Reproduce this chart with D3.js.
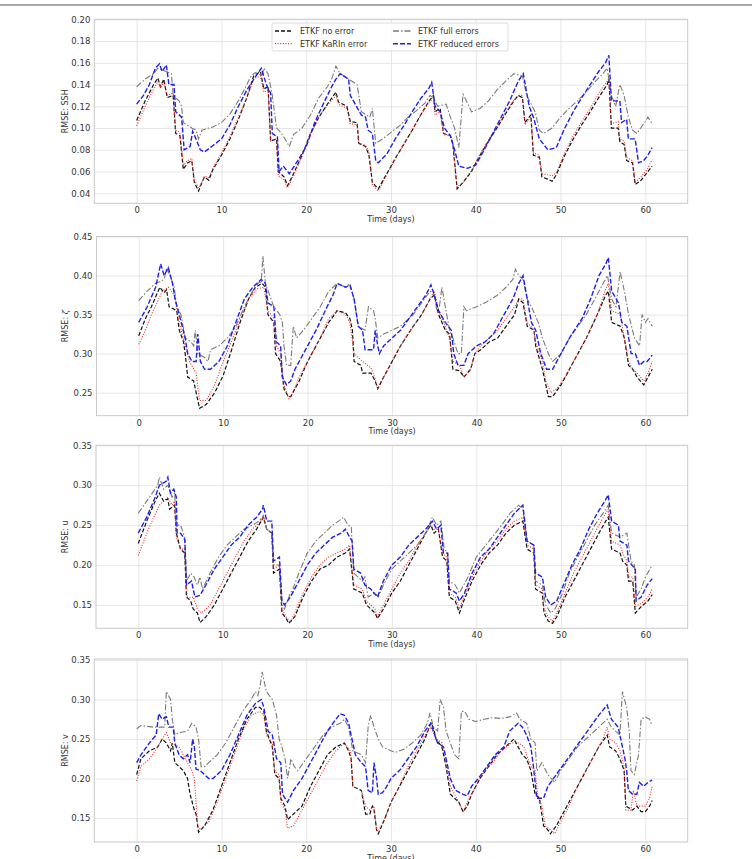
<!DOCTYPE html>
<html>
<head>
<meta charset="utf-8">
<script src="https://cdnjs.cloudflare.com/ajax/libs/d3/7.8.5/d3.min.js"></script>
<style>
  body { margin: 0; background: #fff; }
  svg { display: block; font-family: "DejaVu Sans", sans-serif; }
</style>
</head>
<body>
<div id="chart"></div>
<script>
/*
*    rmse panels: SSH, zeta, u, v
*/

// x ticks shared by every panel
var timeTicks = [0, 10, 20, 30, 40, 50, 60];

// series names (legend order)
var seriesNames = ["ETKF no error", "ETKF KaRIn error", "ETKF full errors", "ETKF reduced errors"];

// ---- SSH ----
var sshNoError = [[0,0.107],[1,0.125],[2,0.14],[2.5,0.146],[2.8,0.138],[3.2,0.145],[3.6,0.128],[4.3,0.13],[4.6,0.095],[5.1,0.093],[5.5,0.062],[6,0.068],[6.5,0.07],[6.8,0.05],[7.3,0.042],[7.7,0.05],[8,0.055],[8.5,0.052],[9,0.062],[10,0.075],[11,0.09],[12,0.108],[13,0.128],[13.8,0.148],[14.6,0.152],[15,0.136],[15.5,0.138],[15.8,0.088],[16.5,0.09],[16.7,0.06],[17.4,0.055],[17.8,0.047],[18.5,0.058],[19.5,0.075],[20.5,0.095],[21.5,0.11],[22.5,0.122],[23.5,0.133],[23.8,0.124],[24.8,0.12],[25.2,0.106],[26,0.105],[26.2,0.086],[27,0.083],[27.4,0.075],[27.8,0.05],[28.5,0.044],[29.5,0.058],[30.5,0.072],[31.5,0.085],[32.5,0.098],[33.5,0.112],[34.5,0.125],[35,0.13],[35.2,0.115],[35.8,0.118],[36.2,0.095],[37,0.093],[37.3,0.085],[37.8,0.044],[38.5,0.05],[39.5,0.06],[40.5,0.075],[41.5,0.088],[42.5,0.1],[43.5,0.113],[44.5,0.125],[45,0.13],[45.5,0.128],[45.8,0.105],[46.5,0.112],[46.8,0.075],[47.5,0.073],[47.8,0.055],[48.5,0.053],[49,0.051],[49.5,0.057],[50.5,0.075],[51.5,0.09],[52.5,0.103],[53.5,0.115],[54.5,0.128],[55.5,0.14],[55.7,0.145],[56,0.1],[56.8,0.1],[57,0.087],[57.5,0.085],[57.8,0.07],[58.5,0.068],[58.8,0.048],[59.5,0.052],[60.3,0.06],[60.8,0.065]];
var sshKarin = [[0,0.102],[1,0.12],[2,0.136],[2.5,0.143],[2.8,0.137],[3.2,0.142],[3.6,0.13],[4.3,0.132],[4.6,0.098],[5.1,0.096],[5.5,0.066],[6,0.07],[6.5,0.072],[6.8,0.052],[7.3,0.045],[7.7,0.05],[8,0.056],[8.5,0.054],[9,0.063],[10,0.077],[11,0.092],[12,0.11],[13,0.128],[13.8,0.145],[14.6,0.148],[15,0.133],[15.5,0.135],[15.8,0.088],[16.5,0.09],[16.7,0.056],[17.4,0.052],[17.8,0.045],[18.5,0.056],[19.5,0.074],[20.5,0.094],[21.5,0.11],[22.5,0.121],[23.5,0.13],[23.8,0.122],[24.8,0.118],[25.2,0.104],[26,0.103],[26.2,0.086],[27,0.084],[27.4,0.078],[27.8,0.048],[28.5,0.042],[29.5,0.057],[30.5,0.071],[31.5,0.085],[32.5,0.098],[33.5,0.112],[34.5,0.124],[35,0.127],[35.2,0.112],[35.8,0.115],[36.2,0.094],[37,0.093],[37.3,0.086],[37.8,0.046],[38.5,0.05],[39.5,0.061],[40.5,0.076],[41.5,0.089],[42.5,0.101],[43.5,0.114],[44.5,0.126],[45,0.13],[45.5,0.13],[45.8,0.103],[46.5,0.11],[46.8,0.077],[47.5,0.075],[47.8,0.058],[48.5,0.057],[49,0.056],[49.5,0.059],[50.5,0.077],[51.5,0.093],[52.5,0.106],[53.5,0.118],[54.5,0.132],[55.5,0.143],[55.7,0.146],[56,0.104],[56.8,0.106],[57,0.09],[57.5,0.088],[57.8,0.073],[58.5,0.07],[58.8,0.05],[59.5,0.055],[60.3,0.063],[60.8,0.071]];
var sshFull = [[0,0.138],[1,0.145],[2,0.15],[2.5,0.155],[3.5,0.152],[4.1,0.15],[4.3,0.13],[5,0.125],[5.3,0.12],[5.5,0.105],[6.5,0.1],[7,0.098],[7.3,0.09],[7.7,0.098],[8.5,0.1],[9,0.101],[10,0.105],[11,0.113],[12,0.125],[13,0.14],[13.5,0.148],[14,0.151],[14.8,0.148],[15,0.155],[15.5,0.15],[16,0.13],[16.2,0.118],[16.5,0.1],[17,0.096],[17.5,0.09],[18,0.083],[18.5,0.094],[19.5,0.1],[20.5,0.112],[21.5,0.128],[22.5,0.138],[23,0.145],[23.5,0.157],[24,0.15],[25,0.145],[26,0.14],[26.5,0.115],[27.5,0.11],[27.8,0.118],[28.2,0.086],[29,0.09],[30,0.096],[31,0.102],[32,0.11],[33,0.116],[34,0.123],[34.6,0.13],[35,0.128],[35.5,0.12],[36.5,0.122],[37,0.11],[37.5,0.1],[38,0.082],[38.5,0.131],[39.2,0.12],[39.5,0.115],[40.5,0.118],[41.5,0.125],[42.5,0.135],[43.5,0.143],[44.5,0.15],[45.5,0.148],[46,0.13],[47,0.115],[47.5,0.098],[48,0.095],[49,0.1],[50,0.11],[51,0.118],[52,0.125],[53,0.133],[54,0.142],[55,0.15],[55.5,0.155],[56,0.13],[56.5,0.12],[57,0.14],[57.5,0.13],[58,0.11],[58.5,0.098],[59,0.095],[60,0.106],[60.3,0.11],[60.8,0.104]];
var sshReduced = [[0,0.122],[0.8,0.13],[1.5,0.14],[2.2,0.155],[2.7,0.159],[3,0.152],[3.5,0.158],[3.8,0.14],[4.4,0.14],[4.6,0.115],[5.3,0.11],[5.6,0.08],[6.3,0.083],[6.6,0.097],[7,0.09],[7.5,0.08],[8,0.078],[9,0.084],[10,0.09],[11,0.103],[12,0.12],[13,0.135],[14,0.147],[14.7,0.155],[15.3,0.14],[15.8,0.132],[16,0.095],[16.6,0.092],[16.8,0.06],[17.3,0.065],[18,0.058],[19,0.07],[20,0.083],[21,0.105],[22,0.122],[23,0.138],[23.5,0.145],[24,0.15],[25,0.145],[25.2,0.13],[26.5,0.112],[27,0.11],[27.3,0.098],[27.8,0.095],[28.2,0.07],[28.5,0.068],[29.5,0.076],[30.5,0.09],[31.5,0.102],[32.5,0.115],[33.5,0.127],[34.5,0.137],[34.8,0.142],[35.2,0.12],[35.8,0.115],[36.3,0.1],[37,0.093],[37.5,0.08],[38,0.065],[39,0.063],[40,0.066],[41,0.08],[42,0.095],[43,0.11],[44,0.125],[45,0.143],[45.6,0.15],[46.3,0.12],[46.8,0.11],[47.5,0.09],[48.5,0.08],[49.5,0.082],[50.5,0.1],[51.5,0.115],[52.5,0.128],[53.5,0.14],[54.5,0.152],[55.3,0.16],[55.7,0.167],[56,0.125],[57,0.125],[57.2,0.105],[57.8,0.108],[58,0.09],[58.8,0.09],[59.2,0.068],[59.8,0.07],[60.3,0.075],[60.8,0.082]];
var sshTicks = [0.04, 0.06, 0.08, 0.10, 0.12, 0.14, 0.16, 0.18, 0.20];

// ---- zeta ----
var zetaNoError = [[0,0.323],[0.8,0.345],[1.5,0.36],[2.5,0.385],[3,0.378],[3.3,0.382],[3.6,0.36],[4.5,0.355],[4.8,0.33],[5.3,0.315],[5.5,0.3],[5.8,0.27],[6.5,0.265],[6.8,0.25],[7.2,0.23],[8,0.235],[9,0.25],[10,0.272],[11,0.305],[12,0.34],[13,0.37],[13.8,0.385],[14.6,0.39],[15,0.385],[15.3,0.35],[16,0.34],[16.2,0.3],[16.8,0.29],[17.2,0.255],[17.7,0.245],[18,0.245],[19,0.265],[20,0.29],[21.5,0.32],[22.5,0.34],[23.5,0.355],[24.5,0.352],[25,0.345],[25.3,0.33],[25.5,0.29],[26.3,0.285],[26.5,0.275],[27.5,0.275],[28,0.265],[28.3,0.255],[29,0.27],[30,0.29],[31,0.31],[32.5,0.335],[33.5,0.35],[34.5,0.37],[35,0.375],[35.5,0.35],[36.3,0.33],[36.8,0.325],[37.2,0.28],[38,0.278],[38.5,0.27],[39.3,0.28],[39.8,0.3],[40.5,0.305],[41.5,0.315],[42.5,0.32],[43.5,0.335],[44.5,0.35],[45,0.37],[45.5,0.365],[46,0.335],[46.8,0.33],[47,0.31],[47.8,0.28],[48.2,0.26],[48.5,0.245],[49,0.245],[50,0.26],[51,0.28],[52,0.3],[53,0.32],[54.3,0.35],[55.3,0.375],[55.6,0.38],[56,0.34],[57,0.335],[57.5,0.32],[58,0.285],[58.5,0.28],[59,0.27],[59.8,0.26],[60.3,0.27],[60.8,0.28]];
var zetaKarin = [[0,0.312],[0.8,0.33],[1.5,0.35],[2.8,0.38],[3.5,0.385],[4.2,0.375],[4.8,0.34],[5.5,0.31],[6,0.29],[6.8,0.275],[7.2,0.24],[8,0.24],[9,0.26],[10,0.29],[11.5,0.33],[13,0.37],[14,0.383],[14.8,0.385],[15.3,0.355],[16,0.345],[16.3,0.31],[16.8,0.3],[17.2,0.26],[17.8,0.242],[18.3,0.25],[19,0.27],[20,0.29],[21.5,0.32],[22.5,0.345],[23.5,0.355],[24.5,0.35],[25,0.34],[25.5,0.3],[26.5,0.29],[27.5,0.282],[28,0.268],[28.3,0.255],[29,0.27],[30,0.29],[31,0.31],[32.5,0.335],[33.5,0.35],[34.5,0.37],[35,0.38],[35.5,0.355],[36.3,0.335],[36.8,0.32],[37.2,0.29],[38,0.285],[38.5,0.27],[39.3,0.28],[39.8,0.3],[40.5,0.31],[41.5,0.32],[42.5,0.33],[43.5,0.345],[44.5,0.36],[45,0.37],[45.5,0.37],[46,0.34],[46.8,0.33],[47,0.315],[47.8,0.29],[48.2,0.265],[48.8,0.25],[49.5,0.255],[50.5,0.27],[51.5,0.29],[53,0.32],[54.3,0.35],[55.2,0.38],[55.6,0.39],[56,0.355],[57,0.35],[57.5,0.32],[58,0.29],[58.5,0.28],[59,0.275],[59.8,0.265],[60.3,0.275],[60.8,0.29]];
var zetaFull = [[0,0.368],[1,0.38],[2,0.39],[2.5,0.392],[3,0.395],[3.3,0.41],[3.7,0.4],[4.2,0.385],[4.5,0.36],[5,0.35],[5.5,0.32],[6.2,0.315],[6.5,0.31],[6.7,0.33],[7,0.3],[7.8,0.295],[8.2,0.29],[8.5,0.305],[9.5,0.31],[10.5,0.32],[11.5,0.335],[12.5,0.36],[13.5,0.38],[14.3,0.392],[14.5,0.39],[14.7,0.425],[15,0.39],[15.5,0.375],[16,0.36],[16.7,0.35],[17,0.34],[17.2,0.31],[17.5,0.285],[18,0.285],[18.3,0.335],[18.7,0.32],[19.5,0.33],[20.5,0.345],[21.5,0.36],[22.5,0.38],[23.5,0.39],[24.5,0.385],[25,0.39],[25.5,0.37],[26,0.335],[26.8,0.33],[27.2,0.36],[27.8,0.355],[28,0.345],[28.3,0.32],[29,0.325],[30,0.33],[31,0.335],[32.5,0.35],[33.5,0.365],[34.5,0.38],[35,0.375],[35.3,0.355],[35.6,0.36],[35.9,0.385],[36.3,0.36],[36.8,0.33],[37.2,0.32],[37.8,0.3],[38.2,0.3],[38.5,0.36],[38.8,0.355],[40,0.36],[41,0.365],[42.5,0.375],[43.5,0.385],[44.3,0.395],[44.6,0.408],[45,0.4],[45.5,0.395],[46,0.37],[46.5,0.36],[47.3,0.34],[47.8,0.32],[48.5,0.3],[49,0.29],[50,0.3],[51,0.32],[52,0.335],[53,0.35],[54,0.37],[55,0.39],[55.5,0.4],[56,0.37],[56.5,0.36],[57,0.405],[57.5,0.38],[58,0.35],[58.7,0.32],[59.3,0.31],[59.6,0.35],[60,0.34],[60.3,0.345],[60.8,0.335]];
var zetaReduced = [[0,0.34],[1,0.36],[2,0.385],[2.6,0.415],[3,0.4],[3.5,0.41],[4,0.39],[4.3,0.37],[4.8,0.35],[5.5,0.32],[5.8,0.3],[6.3,0.29],[6.8,0.29],[7,0.325],[7.3,0.29],[7.8,0.28],[8.5,0.28],[9.5,0.29],[10.5,0.31],[11.5,0.34],[12.5,0.37],[13.5,0.385],[14.5,0.395],[15,0.39],[15.3,0.365],[16,0.36],[16.3,0.315],[16.8,0.31],[17,0.27],[17.5,0.26],[18,0.265],[18.5,0.28],[19.5,0.3],[21,0.33],[22.3,0.36],[23,0.375],[23.5,0.39],[24.5,0.385],[25,0.388],[25.5,0.37],[26,0.335],[26.5,0.33],[26.8,0.305],[27.8,0.305],[28,0.33],[28.3,0.31],[28.5,0.3],[29,0.31],[30,0.32],[31,0.33],[32,0.345],[33,0.36],[34,0.375],[34.6,0.388],[35,0.375],[35.5,0.355],[36.3,0.34],[37,0.33],[37.3,0.3],[37.8,0.285],[38.5,0.285],[39,0.3],[40,0.31],[41,0.315],[42,0.325],[43,0.345],[44.3,0.37],[45,0.39],[45.5,0.4],[46,0.37],[46.5,0.34],[47,0.33],[47.6,0.3],[48.3,0.28],[49,0.28],[50,0.3],[51,0.32],[52.5,0.345],[53.5,0.37],[54.5,0.4],[55.3,0.415],[55.6,0.423],[56,0.38],[56.8,0.365],[57.2,0.34],[57.8,0.335],[58.3,0.3],[58.8,0.3],[59.3,0.285],[59.8,0.29],[60.2,0.29],[60.8,0.298]];
var zetaTicks = [0.25, 0.30, 0.35, 0.40, 0.45];

// ---- u ----
var uNoError = [[0,0.227],[1,0.255],[2,0.28],[2.5,0.29],[3,0.28],[3.5,0.283],[3.7,0.27],[4.3,0.275],[4.5,0.24],[5,0.22],[5.5,0.215],[5.7,0.16],[6.2,0.155],[6.5,0.145],[7,0.14],[7.3,0.128],[8,0.135],[9,0.15],[10,0.17],[11,0.19],[12,0.21],[13,0.23],[14,0.245],[14.8,0.26],[15.2,0.245],[15.8,0.24],[16,0.19],[16.7,0.195],[17,0.14],[17.5,0.133],[17.8,0.127],[18.5,0.135],[19.5,0.16],[20.5,0.18],[21.5,0.195],[22.5,0.2],[23.5,0.21],[24.5,0.215],[25,0.22],[25.5,0.17],[26.5,0.165],[27,0.15],[28,0.14],[28.3,0.133],[29,0.145],[30,0.165],[31,0.18],[32,0.2],[33,0.22],[34,0.24],[34.6,0.25],[35,0.24],[35.5,0.245],[36,0.21],[36.5,0.205],[36.8,0.16],[37.5,0.155],[38,0.14],[38.5,0.155],[39.5,0.18],[40.5,0.2],[41.5,0.215],[42.5,0.225],[43.5,0.24],[44.5,0.25],[45.5,0.255],[46,0.22],[46.8,0.215],[47,0.17],[47.8,0.165],[48,0.14],[48.5,0.13],[49,0.127],[49.5,0.135],[50.5,0.16],[51.5,0.18],[52.5,0.2],[53.5,0.22],[54.5,0.24],[55.3,0.255],[55.6,0.26],[56,0.22],[57,0.215],[57.3,0.205],[57.8,0.2],[58,0.18],[58.5,0.18],[58.8,0.14],[59.5,0.148],[60.3,0.155],[60.8,0.163]];
var uKarin = [[0,0.212],[1.2,0.245],[2.5,0.275],[3,0.28],[3.5,0.285],[4,0.275],[4.3,0.28],[4.5,0.235],[5,0.22],[5.5,0.22],[5.8,0.158],[6.5,0.16],[7,0.145],[7.5,0.14],[8.5,0.15],[9.5,0.17],[10.5,0.19],[11.5,0.21],[12.5,0.23],[13.5,0.245],[14.5,0.255],[14.8,0.26],[15.2,0.245],[15.8,0.24],[16,0.195],[16.7,0.2],[17,0.145],[17.5,0.135],[18,0.128],[18.5,0.14],[19.5,0.165],[20.5,0.185],[21.5,0.2],[22.5,0.21],[23.5,0.215],[24.5,0.22],[25,0.225],[25.5,0.175],[26.5,0.17],[27,0.155],[28,0.145],[28.3,0.135],[29,0.15],[30,0.17],[31,0.19],[32,0.205],[33,0.225],[34,0.24],[34.6,0.25],[35,0.245],[35.5,0.245],[36,0.215],[36.5,0.21],[36.8,0.165],[37.5,0.16],[38,0.145],[38.5,0.16],[39.5,0.185],[40.5,0.205],[41.5,0.22],[42.5,0.23],[43.5,0.245],[44.5,0.255],[45.5,0.26],[46,0.225],[46.8,0.22],[47,0.175],[47.8,0.17],[48,0.145],[48.5,0.135],[49,0.13],[49.5,0.14],[50.5,0.165],[51.5,0.19],[52.5,0.21],[53.5,0.23],[54.5,0.25],[55.3,0.265],[55.6,0.27],[56,0.23],[57,0.225],[57.3,0.215],[57.8,0.205],[58,0.185],[58.5,0.185],[58.8,0.148],[59.5,0.152],[60.3,0.16],[60.8,0.17]];
var uFull = [[0,0.265],[1,0.28],[2.3,0.3],[2.5,0.31],[3,0.295],[3.5,0.3],[4,0.285],[4.3,0.29],[4.5,0.25],[5,0.25],[5.5,0.235],[5.7,0.18],[6.2,0.19],[6.6,0.185],[7,0.175],[7.3,0.185],[7.6,0.17],[8.5,0.19],[9.5,0.21],[10.5,0.225],[11.5,0.235],[12.5,0.245],[13.5,0.25],[14.3,0.255],[14.8,0.262],[15.2,0.245],[15.8,0.24],[16,0.2],[16.7,0.2],[17,0.15],[17.3,0.145],[18,0.165],[18.3,0.17],[19,0.19],[20,0.215],[21,0.23],[22,0.24],[23,0.25],[23.7,0.255],[24.3,0.26],[24.8,0.25],[25.2,0.248],[25.5,0.19],[26.5,0.18],[26.8,0.185],[27.2,0.16],[28,0.165],[28.4,0.16],[29,0.175],[30,0.195],[31.5,0.21],[33,0.225],[34,0.24],[34.8,0.26],[35.3,0.25],[35.8,0.255],[36.2,0.22],[36.6,0.215],[36.8,0.18],[37.5,0.175],[38,0.165],[39,0.185],[40,0.21],[41.5,0.23],[43,0.25],[44,0.265],[45,0.275],[45.5,0.27],[46,0.23],[46.8,0.225],[47,0.18],[47.8,0.175],[48.2,0.15],[48.8,0.14],[49.3,0.145],[50.2,0.165],[51,0.19],[52,0.21],[53,0.23],[54,0.25],[55,0.265],[55.6,0.275],[56,0.24],[57,0.235],[57.8,0.24],[58.3,0.205],[58.7,0.2],[58.9,0.16],[59.5,0.17],[60,0.185],[60.8,0.2]];
var uReduced = [[0,0.24],[1,0.26],[2,0.285],[2.5,0.3],[3.3,0.305],[3.5,0.31],[3.8,0.29],[4.2,0.295],[4.5,0.285],[4.6,0.24],[5,0.24],[5.5,0.232],[5.7,0.175],[6.3,0.18],[6.7,0.16],[7.3,0.162],[8,0.175],[9,0.195],[10,0.21],[11,0.225],[12,0.235],[13,0.25],[14,0.26],[14.7,0.27],[14.8,0.275],[15.2,0.255],[15.8,0.255],[16,0.205],[16.7,0.21],[17,0.155],[17.3,0.15],[18,0.16],[19,0.18],[20,0.2],[21,0.215],[22,0.225],[23,0.235],[24,0.24],[24.5,0.245],[25,0.235],[25.3,0.23],[25.5,0.195],[26.3,0.19],[26.8,0.175],[27.5,0.17],[28.3,0.16],[29,0.18],[30,0.2],[31,0.21],[32,0.225],[33,0.235],[34,0.245],[34.8,0.255],[35.3,0.245],[35.8,0.25],[36.1,0.215],[36.6,0.215],[36.8,0.17],[37.6,0.165],[38,0.155],[38.6,0.165],[39.5,0.19],[40.5,0.21],[41.5,0.22],[42.5,0.235],[43.5,0.25],[44.5,0.265],[45,0.27],[45.5,0.275],[46,0.23],[46.8,0.225],[47,0.19],[47.8,0.185],[48.2,0.16],[48.8,0.15],[49.5,0.155],[50.3,0.175],[51.3,0.2],[52.3,0.22],[53.3,0.245],[54.3,0.265],[55.2,0.28],[55.6,0.288],[56,0.255],[56.8,0.25],[57,0.23],[57.8,0.225],[58,0.205],[58.8,0.195],[58.9,0.155],[59.5,0.16],[60.2,0.175],[60.8,0.183]];
var uTicks = [0.15, 0.20, 0.25, 0.30, 0.35];

// ---- v ----
var vNoError = [[0,0.205],[0.5,0.225],[1.5,0.235],[2.5,0.24],[3,0.25],[3.5,0.245],[4,0.235],[4.2,0.245],[4.5,0.22],[5,0.215],[5.5,0.21],[6,0.2],[6.3,0.18],[6.8,0.16],[7,0.155],[7.3,0.132],[8,0.14],[9,0.16],[10,0.19],[11,0.22],[12,0.25],[13,0.275],[14,0.29],[14.5,0.29],[15,0.285],[15.3,0.26],[16,0.24],[16.3,0.205],[16.8,0.2],[17,0.175],[17.5,0.165],[17.8,0.148],[18.5,0.155],[19.5,0.165],[20.5,0.19],[21.5,0.21],[22.5,0.23],[23.5,0.24],[24.5,0.245],[25,0.235],[25.3,0.225],[25.5,0.19],[26.5,0.185],[27,0.155],[27.5,0.155],[27.8,0.165],[28,0.16],[28.3,0.135],[28.5,0.13],[29.3,0.15],[30,0.17],[31,0.19],[32,0.21],[33,0.23],[34,0.25],[34.7,0.27],[35,0.265],[35.3,0.25],[36,0.24],[36.5,0.215],[37,0.18],[37.5,0.175],[38,0.17],[38.5,0.158],[39,0.165],[39.5,0.18],[40.5,0.2],[41.5,0.215],[42.5,0.23],[43.5,0.24],[44.5,0.25],[45,0.24],[45.5,0.23],[46,0.225],[46.5,0.21],[47,0.18],[47.5,0.175],[48,0.14],[48.5,0.135],[48.8,0.13],[49.5,0.14],[50.5,0.16],[51.5,0.18],[52.5,0.2],[53.5,0.22],[54.5,0.24],[55.5,0.255],[55.8,0.24],[56.5,0.235],[57,0.225],[57.5,0.21],[57.7,0.165],[58.5,0.16],[59,0.165],[59.5,0.158],[60,0.158],[60.5,0.165],[60.8,0.172]];
var vKarin = [[0,0.197],[0.5,0.215],[1.5,0.225],[2.5,0.24],[3,0.25],[3.5,0.258],[4,0.245],[5,0.24],[5.5,0.23],[6,0.22],[6.5,0.21],[6.8,0.2],[7.2,0.14],[7.5,0.135],[8.5,0.145],[9.5,0.17],[10.5,0.2],[11.5,0.23],[12.5,0.26],[13.5,0.28],[14.5,0.285],[15,0.28],[15.3,0.255],[16,0.245],[16.3,0.21],[16.8,0.205],[17,0.17],[17.5,0.16],[17.8,0.137],[18.5,0.14],[19.5,0.16],[20.5,0.18],[21.5,0.2],[22.5,0.22],[23.5,0.235],[24.5,0.245],[25.2,0.235],[25.5,0.19],[26.5,0.185],[27,0.165],[27.5,0.16],[28,0.165],[28.3,0.135],[28.5,0.133],[29.3,0.15],[30,0.17],[31,0.19],[32,0.215],[33,0.235],[34,0.255],[34.7,0.265],[35.3,0.25],[36,0.245],[36.5,0.22],[37,0.19],[37.5,0.18],[38,0.17],[38.5,0.157],[39,0.17],[40,0.19],[41,0.21],[42,0.22],[43,0.235],[44.2,0.245],[45,0.245],[45.7,0.24],[46,0.23],[46.5,0.215],[47,0.21],[47.3,0.18],[47.8,0.165],[48.2,0.14],[48.8,0.135],[49.3,0.13],[50,0.145],[51,0.165],[52,0.19],[53,0.21],[54,0.23],[55,0.25],[55.5,0.265],[55.8,0.25],[56.5,0.245],[57,0.235],[57.5,0.215],[57.7,0.16],[58.3,0.16],[58.6,0.185],[59,0.165],[60,0.165],[60.5,0.175],[60.8,0.19]];
var vFull = [[0,0.263],[0.5,0.267],[2,0.265],[3.3,0.265],[3.5,0.31],[4,0.3],[4.2,0.275],[4.5,0.255],[5,0.258],[6,0.26],[6.5,0.27],[7,0.265],[7.3,0.25],[7.6,0.215],[8,0.215],[8.5,0.22],[9.5,0.23],[10.5,0.245],[11.5,0.265],[12.5,0.285],[13.5,0.3],[14,0.31],[14.3,0.305],[14.6,0.32],[14.8,0.335],[15.3,0.31],[16,0.3],[16.5,0.28],[16.8,0.25],[17,0.245],[17.5,0.225],[17.8,0.2],[18.2,0.225],[18.6,0.215],[19,0.21],[20,0.225],[21,0.24],[22,0.255],[23,0.265],[24,0.27],[24.5,0.275],[25,0.265],[25.5,0.235],[26.5,0.23],[27,0.22],[27.3,0.265],[27.6,0.28],[28,0.265],[28.5,0.25],[29,0.24],[30,0.235],[30.5,0.233],[31.5,0.237],[32.5,0.245],[33.5,0.255],[34.3,0.27],[34.6,0.283],[35,0.265],[35.5,0.26],[35.8,0.3],[36.2,0.29],[36.5,0.26],[37,0.245],[37.5,0.23],[38,0.225],[38.3,0.285],[38.7,0.285],[39.2,0.275],[40,0.272],[41,0.275],[42,0.277],[43,0.276],[44,0.278],[44.8,0.283],[45.2,0.275],[46,0.27],[46.5,0.25],[47,0.245],[47.2,0.21],[47.8,0.22],[48.5,0.205],[49.3,0.195],[50,0.21],[51,0.225],[52,0.24],[53,0.25],[54,0.26],[55,0.27],[55.5,0.275],[56,0.265],[57,0.255],[57.3,0.31],[57.8,0.29],[58.1,0.26],[58.3,0.21],[58.7,0.205],[59.2,0.23],[59.5,0.275],[60,0.278],[60.5,0.275],[60.8,0.267]];
var vReduced = [[0,0.22],[0.5,0.23],[1.5,0.245],[2.3,0.255],[2.6,0.282],[3,0.275],[3.5,0.278],[3.8,0.265],[4.3,0.265],[4.5,0.245],[5,0.23],[5.5,0.225],[6,0.23],[6.3,0.22],[6.6,0.25],[6.8,0.24],[7,0.212],[7.5,0.21],[8.5,0.2],[9,0.2],[10,0.21],[11,0.23],[12,0.255],[13,0.28],[14,0.295],[14.7,0.3],[15,0.29],[15.5,0.26],[16,0.255],[16.5,0.225],[17,0.22],[17.2,0.18],[17.8,0.17],[18.5,0.185],[19.5,0.2],[20.5,0.22],[21.5,0.24],[22.5,0.26],[23.5,0.275],[24,0.282],[24.5,0.28],[25,0.27],[25.3,0.255],[25.8,0.23],[26.5,0.22],[27,0.215],[27.3,0.185],[27.8,0.182],[28,0.22],[28.3,0.2],[28.5,0.18],[29,0.182],[29.5,0.19],[30,0.2],[31,0.21],[32,0.225],[33,0.24],[34,0.26],[34.7,0.27],[35,0.26],[35.5,0.245],[36.2,0.24],[36.6,0.22],[37,0.2],[37.6,0.185],[38.5,0.18],[39,0.178],[39.5,0.19],[40.3,0.2],[41.3,0.215],[42.3,0.23],[43.3,0.24],[44,0.26],[45,0.27],[45.5,0.265],[46,0.255],[46.5,0.24],[46.8,0.215],[47.2,0.175],[48,0.175],[48.5,0.19],[49.5,0.205],[50.5,0.22],[51.5,0.235],[52.5,0.25],[53.5,0.265],[54.5,0.28],[55.5,0.293],[56,0.275],[56.8,0.265],[57.2,0.245],[57.6,0.225],[57.8,0.21],[58,0.185],[58.5,0.18],[59,0.18],[59.3,0.195],[59.8,0.19],[60.3,0.195],[60.8,0.198]];
var vTicks = [0.15, 0.20, 0.25, 0.30, 0.35];

var panels = [
    { label: "SSH", series: [sshNoError, sshKarin, sshFull, sshReduced], ticks: sshTicks, ydom: [0.0308, 0.20], top: 19.3, bottom: 203.3, left: 94.3, legend: true },
    { label: "zeta", series: [zetaNoError, zetaKarin, zetaFull, zetaReduced], ticks: zetaTicks, ydom: [0.2205, 0.45], top: 236.5, bottom: 415.7, left: 96.5 },
    { label: "u", series: [uNoError, uKarin, uFull, uReduced], ticks: uTicks, ydom: [0.1208, 0.35], top: 445.3, bottom: 628.3, left: 96 },
    { label: "v", series: [vNoError, vKarin, vFull, vReduced], ticks: vTicks, ydom: [0.1196, 0.3513], top: 659, bottom: 842, left: 94.3 }
];

var styles = [
    { color: "#111111", dash: "4,2", width: 1.2 },
    { color: "#ee2a22", dash: "1,1.6", width: 1.1 },
    { color: "#7a7a7a", dash: "6,2,1.5,2", width: 1.1 },
    { color: "#1f1fe8", dash: "5,2", width: 1.4 }
];

var W = 752, H = 859;
var right = 687.7;

var svg = d3.select("#chart").append("svg")
    .attr("width", W)
    .attr("height", H);

// page rule along the top
svg.append("line")
    .attr("x1", 0).attr("x2", W)
    .attr("y1", 5).attr("y2", 5)
    .attr("stroke", "#8a8a8a")
    .attr("stroke-width", 1.5);

var x = d3.scaleLinear().domain([-5, 65]);

panels.forEach(function(p, pi) {
    var w = right - p.left;
    var h = p.bottom - p.top;
    var xs = x.copy().range([0, w]);
    var ys = d3.scaleLinear().domain(p.ydom).range([h, 0]);

    var g = svg.append("g")
        .attr("transform", "translate(" + p.left + "," + p.top + ")");

    g.append("clipPath").attr("id", "clip" + pi)
        .append("rect").attr("width", w).attr("height", h);

    // grid + tick labels
    var xAxis = g.append("g")
        .attr("transform", "translate(0," + h + ")")
        .call(d3.axisBottom(xs).tickValues(timeTicks).tickSizeInner(-h).tickSizeOuter(0).tickPadding(4));
    var yAxis = g.append("g")
        .call(d3.axisLeft(ys).tickValues(p.ticks).tickFormat(d3.format(".2f")).tickSizeInner(-w).tickSizeOuter(0).tickPadding(4));

    [xAxis, yAxis].forEach(function(a) {
        a.select(".domain").remove();
        a.selectAll("line").attr("stroke", "#e3e3e3").attr("stroke-width", 0.9);
        a.selectAll("text")
            .attr("fill", "#333")
            .attr("font-size", "8.5px")
            .attr("font-family", "DejaVu Sans, sans-serif");
    });

    // frame
    g.append("rect")
        .attr("width", w).attr("height", h)
        .attr("fill", "none")
        .attr("stroke", "#c8c8c8")
        .attr("stroke-width", 1);

    var line = d3.line()
        .x(function(d) { return xs(d[0]); })
        .y(function(d) { return ys(d[1]); });

    g.append("g").attr("clip-path", "url(#clip" + pi + ")")
        .selectAll("path")
        .data(p.series)
        .enter().append("path")
        .attr("d", line)
        .attr("fill", "none")
        .attr("stroke", function(d, i) { return styles[i].color; })
        .attr("stroke-width", function(d, i) { return styles[i].width; })
        .attr("stroke-dasharray", function(d, i) { return styles[i].dash; });

    // axis labels
    g.append("text")
        .attr("x", xs(30))
        .attr("y", h + 18.5)
        .attr("text-anchor", "middle")
        .attr("font-size", "8px")
        .attr("fill", "#333")
        .text("Time (days)");

    var yl = g.append("text")
        .attr("transform", "translate(" + (68 - p.left) + "," + (h / 2) + ") rotate(-90)")
        .attr("text-anchor", "middle")
        .attr("font-size", "8px")
        .attr("fill", "#333");
    if (p.label === "zeta") {
        yl.append("tspan").text("RMSE: ");
        yl.append("tspan").attr("font-style", "italic").attr("font-family", "DejaVu Serif, serif").text("ζ");
    } else {
        yl.text("RMSE: " + p.label);
    }

    if (p.legend) {
        var lg = g.append("g")
            .attr("transform", "translate(" + (272 - p.left) + "," + (23 - p.top) + ")");
        lg.append("rect")
            .attr("width", 236).attr("height", 28)
            .attr("rx", 2)
            .attr("fill", "#fff")
            .attr("fill-opacity", 0.85)
            .attr("stroke", "#dcdcdc");
        seriesNames.forEach(function(name, i) {
            var col = Math.floor(i / 2), row = i % 2;
            var ox = 3 + col * 118, oy = 8 + row * 12.7;
            lg.append("line")
                .attr("x1", ox).attr("x2", ox + 18)
                .attr("y1", oy).attr("y2", oy)
                .attr("stroke", styles[i].color)
                .attr("stroke-width", styles[i].width + 0.2)
                .attr("stroke-dasharray", styles[i].dash);
            lg.append("text")
                .attr("x", ox + 25)
                .attr("y", oy + 3)
                .attr("font-size", "8px")
                .attr("fill", "#333")
                .text(name);
        });
    }
});
</script>
</body>
</html>
